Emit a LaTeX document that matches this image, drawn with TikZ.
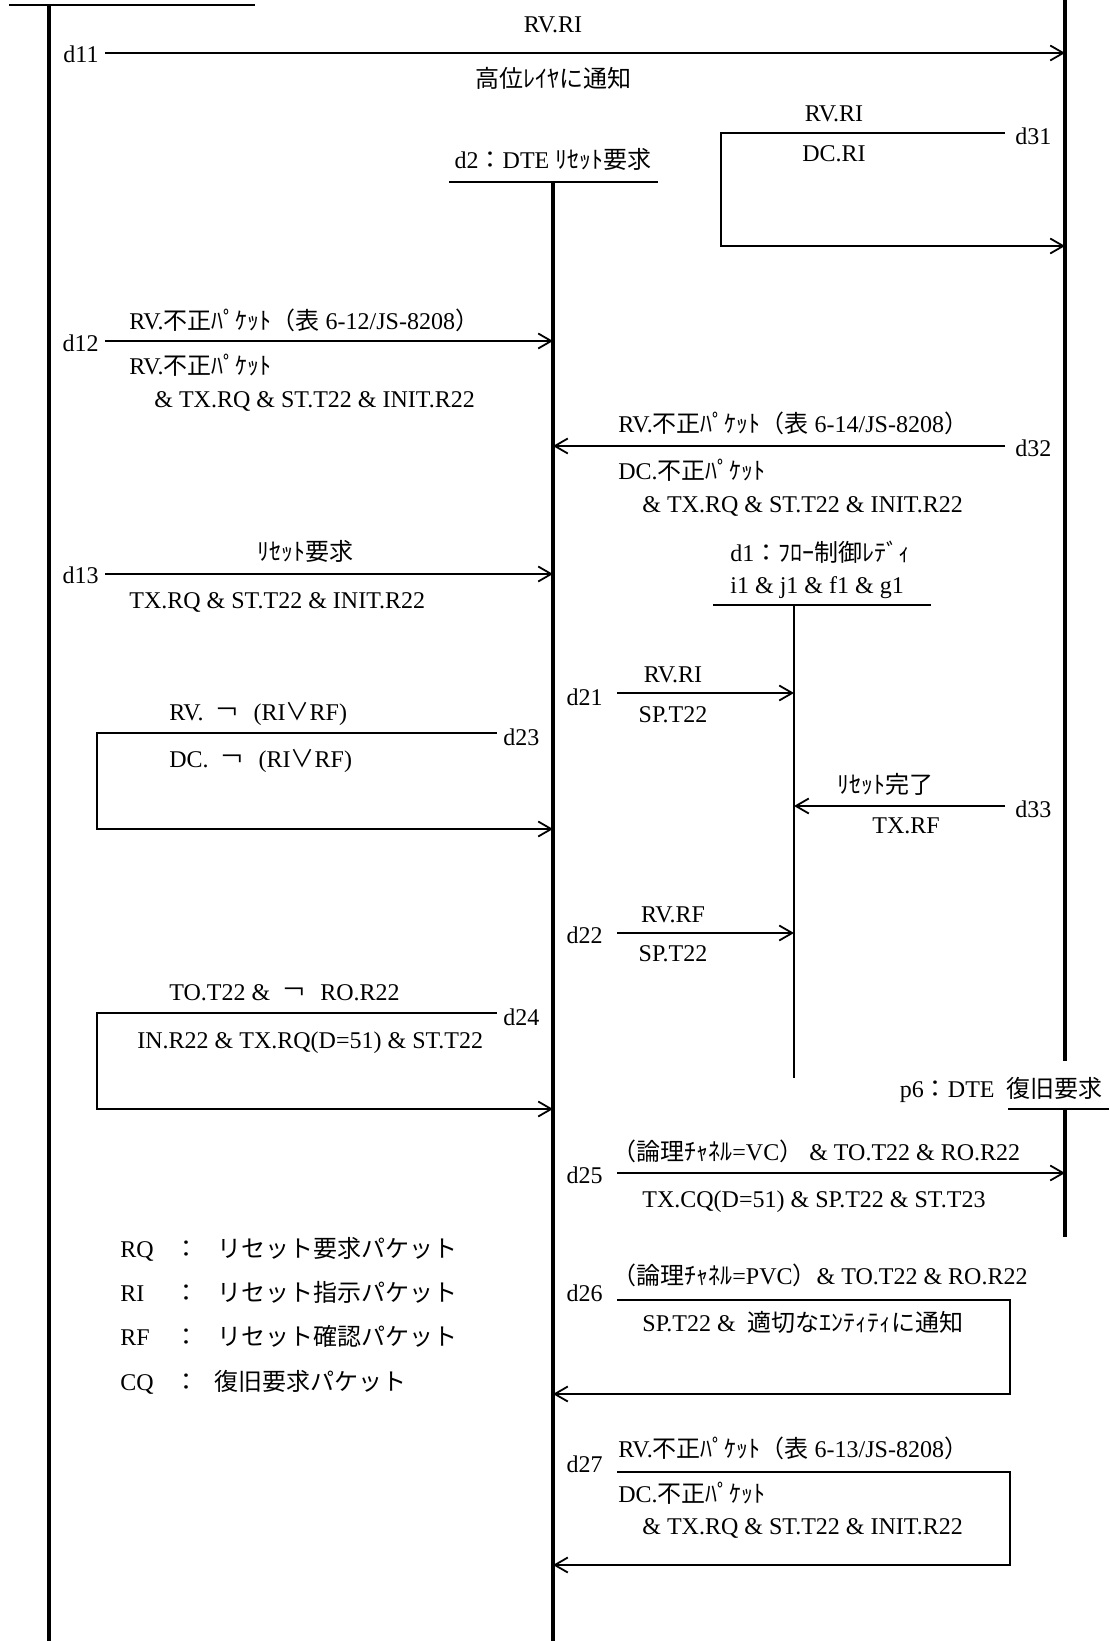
\documentclass[tikz,border=0pt]{standalone}
\usepackage{fontspec}
\setmainfont{Liberation Serif}
\newfontfamily\jp{Noto Sans CJK JP}
\newcommand\J[1]{{\jp #1}}
\newcommand\NOT{\hspace{6pt}\J{￢}\hspace{7pt}}
\usetikzlibrary{arrows.meta}
\tikzset{
  life/.style={line width=1.9pt},
  thinlife/.style={line width=0.9pt},
  hdr/.style={line width=1.1pt},
  msg/.style={line width=0.9pt},
  arr/.style={msg,-{Straight Barb[length=6.5pt,width=7.5pt]}},
  lbl/.style={inner sep=0pt,font=\fontsize{12}{14}\selectfont},
}
\begin{document}
\begin{tikzpicture}[x=0.5pt,y=-0.5pt]
\useasboundingbox (0,0) rectangle (1109,1641);
% ---- lifelines ----
\coordinate (Lh1) at (9,5); \coordinate (Lh2) at (255,5);
\coordinate (Ltop) at (49,5); \coordinate (Lbot) at (49,1641);
\draw[hdr] (Lh1) -- (Lh2);
\draw[life] (Ltop) -- (Lbot);

\coordinate (Rtop) at (1065,0); \coordinate (Rend) at (1065,1061);
\draw[life] (Rtop) -- (Rend);
\node[lbl,anchor=base east] (p6) at (1103,1097) {p6\J{：}DTE\ \ \J{復旧要求}};
\coordinate (p6a) at (1008,1109); \coordinate (p6b) at (1109,1109);
\draw[hdr] (p6a) -- (p6b);
\coordinate (R2top) at (1065,1109); \coordinate (R2bot) at (1065,1237);
\draw[life] (R2top) -- (R2bot);

\node[lbl,anchor=base] (d2h) at (553,169) {d2\J{：}DTE \J{ﾘｾｯﾄ要求}};
\coordinate (d2a) at (449,182); \coordinate (d2b) at (658,182);
\draw[hdr] (d2a) -- (d2b);
\coordinate (Mtop) at (553,182); \coordinate (Mbot) at (553,1641);
\draw[life] (Mtop) -- (Mbot);

\node[lbl,anchor=base west] (d1h) at (730,561) {d1\J{：ﾌﾛｰ制御ﾚﾃﾞｨ}};
\node[lbl,anchor=base west] (d1c) at (730,593) {i1 \& j1 \& f1 \& g1};
\coordinate (d1a) at (713,605); \coordinate (d1b) at (931,605);
\draw[hdr] (d1a) -- (d1b);
\coordinate (Dtop) at (794,605); \coordinate (Dbot) at (794,1078);
\draw[thinlife] (Dtop) -- (Dbot);

% ---- d11 ----
\node[lbl,anchor=base east] (n11) at (99,63) {d11};
\coordinate (d11s) at (105,53);
\draw[arr] (d11s) -- (d11s -| Rtop);
\node[lbl,anchor=base] (t11a) at (553,33) {RV.RI};
\node[lbl,anchor=base] (t11b) at (553,88) {\J{高位ﾚｲﾔに通知}};

% ---- d31 ----
\node[lbl,anchor=base west] (n31) at (1015,145) {d31};
\coordinate (d31s) at (1005,133); \coordinate (d31a) at (721,133); \coordinate (d31b) at (721,246);
\draw[arr] (d31s) -- (d31a) -- (d31b) -- (d31b -| Rtop);
\node[lbl,anchor=base] (t31a) at (834,122) {RV.RI};
\node[lbl,anchor=base] (t31b) at (834,162) {DC.RI};

% ---- d12 ----
\node[lbl,anchor=base east] (n12) at (99,352) {d12};
\coordinate (d12s) at (105,341);
\draw[arr] (d12s) -- (d12s -| Mtop);
\node[lbl,anchor=base west] (t12a) at (129,330) {RV.\J{不正ﾊﾟｹｯﾄ（表} 6-12/JS-8208\J{）}};
\node[lbl,anchor=base west] (t12b) at (129,375) {RV.\J{不正ﾊﾟｹｯﾄ}};
\node[lbl,anchor=base west] (t12c) at (154,408) {\& TX.RQ \& ST.T22 \& INIT.R22};

% ---- d32 ----
\node[lbl,anchor=base west] (n32) at (1015,457) {d32};
\coordinate (d32s) at (1005,446);
\draw[arr] (d32s) -- (d32s -| Mtop);
\node[lbl,anchor=base west] (t32a) at (618,433) {RV.\J{不正ﾊﾟｹｯﾄ（表} 6-14/JS-8208\J{）}};
\node[lbl,anchor=base west] (t32b) at (618,480) {DC.\J{不正ﾊﾟｹｯﾄ}};
\node[lbl,anchor=base west] (t32c) at (642,513) {\& TX.RQ \& ST.T22 \& INIT.R22};

% ---- d13 ----
\node[lbl,anchor=base east] (n13) at (99,583) {d13};
\coordinate (d13s) at (105,574);
\draw[arr] (d13s) -- (d13s -| Mtop);
\node[lbl,anchor=base] (t13a) at (305,560) {\J{ﾘｾｯﾄ要求}};
\node[lbl,anchor=base west] (t13b) at (129,608) {TX.RQ \& ST.T22 \& INIT.R22};

% ---- d21 ----
\node[lbl,anchor=base east] (n21) at (603,705) {d21};
\coordinate (d21s) at (617,693);
\draw[arr] (d21s) -- (d21s -| Dtop);
\node[lbl,anchor=base] (t21a) at (673,682) {RV.RI};
\node[lbl,anchor=base] (t21b) at (673,722) {SP.T22};

% ---- d23 ----
\node[lbl,anchor=base west] (n23) at (503,745) {d23};
\coordinate (d23s) at (497,733); \coordinate (d23a) at (97,733); \coordinate (d23b) at (97,829);
\draw[arr] (d23s) -- (d23a) -- (d23b) -- (d23b -| Mtop);
\node[lbl,anchor=base west] (t23a) at (169,720) {RV.\NOT(RI\J{∨}RF)};
\node[lbl,anchor=base west] (t23b) at (169,767) {DC.\NOT(RI\J{∨}RF)};

% ---- d33 ----
\node[lbl,anchor=base west] (n33) at (1015,817) {d33};
\coordinate (d33s) at (1005,806);
\draw[arr] (d33s) -- (d33s -| Dtop);
\node[lbl,anchor=base] (t33a) at (885,793) {\J{ﾘｾｯﾄ完了}};
\node[lbl,anchor=base] (t33b) at (906,833) {TX.RF};

% ---- d22 ----
\node[lbl,anchor=base east] (n22) at (603,943) {d22};
\coordinate (d22s) at (617,933);
\draw[arr] (d22s) -- (d22s -| Dtop);
\node[lbl,anchor=base] (t22a) at (673,922) {RV.RF};
\node[lbl,anchor=base] (t22b) at (673,961) {SP.T22};

% ---- d24 ----
\node[lbl,anchor=base west] (n24) at (503,1025) {d24};
\coordinate (d24s) at (497,1013); \coordinate (d24a) at (97,1013); \coordinate (d24b) at (97,1109);
\draw[arr] (d24s) -- (d24a) -- (d24b) -- (d24b -| Mtop);
\node[lbl,anchor=base west] (t24a) at (169,1000) {TO.T22 \&\NOT RO.R22};
\node[lbl,anchor=base west] (t24b) at (137,1048) {IN.R22 \& TX.RQ(D=51) \& ST.T22};

% ---- d25 ----
\node[lbl,anchor=base east] (n25) at (603,1183) {d25};
\coordinate (d25s) at (617,1173);
\draw[arr] (d25s) -- (d25s -| R2top);
\node[lbl,anchor=base west] (t25a) at (612,1160) {\J{（論理ﾁｬﾈﾙ}=VC\J{）} \& TO.T22 \& RO.R22};
\node[lbl,anchor=base west] (t25b) at (642,1207) {TX.CQ(D=51) \& SP.T22 \& ST.T23};

% ---- d26 ----
\node[lbl,anchor=base east] (n26) at (603,1301) {d26};
\coordinate (d26s) at (617,1300); \coordinate (d26a) at (1010,1300); \coordinate (d26b) at (1010,1394);
\draw[arr] (d26s) -- (d26a) -- (d26b) -- (d26b -| Mtop);
\node[lbl,anchor=base west] (t26a) at (612,1284) {\J{（論理ﾁｬﾈﾙ}=PVC\J{）}\& TO.T22 \& RO.R22};
\node[lbl,anchor=base west] (t26b) at (642,1331) {SP.T22 \&\ \ \J{適切なｴﾝﾃｨﾃｨに通知}};

% ---- d27 ----
\node[lbl,anchor=base east] (n27) at (603,1472) {d27};
\coordinate (d27s) at (617,1472); \coordinate (d27a) at (1010,1472); \coordinate (d27b) at (1010,1565);
\draw[arr] (d27s) -- (d27a) -- (d27b) -- (d27b -| Mtop);
\node[lbl,anchor=base west] (t27a) at (618,1457) {RV.\J{不正ﾊﾟｹｯﾄ（表} 6-13/JS-8208\J{）}};
\node[lbl,anchor=base west] (t27b) at (618,1502) {DC.\J{不正ﾊﾟｹｯﾄ}};
\node[lbl,anchor=base west] (t27c) at (642,1534) {\& TX.RQ \& ST.T22 \& INIT.R22};

% ---- legend ----
\node[lbl,anchor=base west] (gRQ) at (120,1257) {RQ};
\node[lbl,anchor=base] (cRQ) at (186,1257) {\J{：}};
\node[lbl,anchor=base west] (jRQ) at (217,1257) {\J{リセット要求パケット}};
\node[lbl,anchor=base west] (gRI) at (120,1301) {RI};
\node[lbl,anchor=base] (cRI) at (186,1301) {\J{：}};
\node[lbl,anchor=base west] (jRI) at (217,1301) {\J{リセット指示パケット}};
\node[lbl,anchor=base west] (gRF) at (120,1345) {RF};
\node[lbl,anchor=base] (cRF) at (186,1345) {\J{：}};
\node[lbl,anchor=base west] (jRF) at (217,1345) {\J{リセット確認パケット}};
\node[lbl,anchor=base west] (gCQ) at (120,1390) {CQ};
\node[lbl,anchor=base] (cCQ) at (186,1390) {\J{：}};
\node[lbl,anchor=base west] (jCQ) at (214,1390) {\J{復旧要求パケット}};
\end{tikzpicture}
\end{document}
